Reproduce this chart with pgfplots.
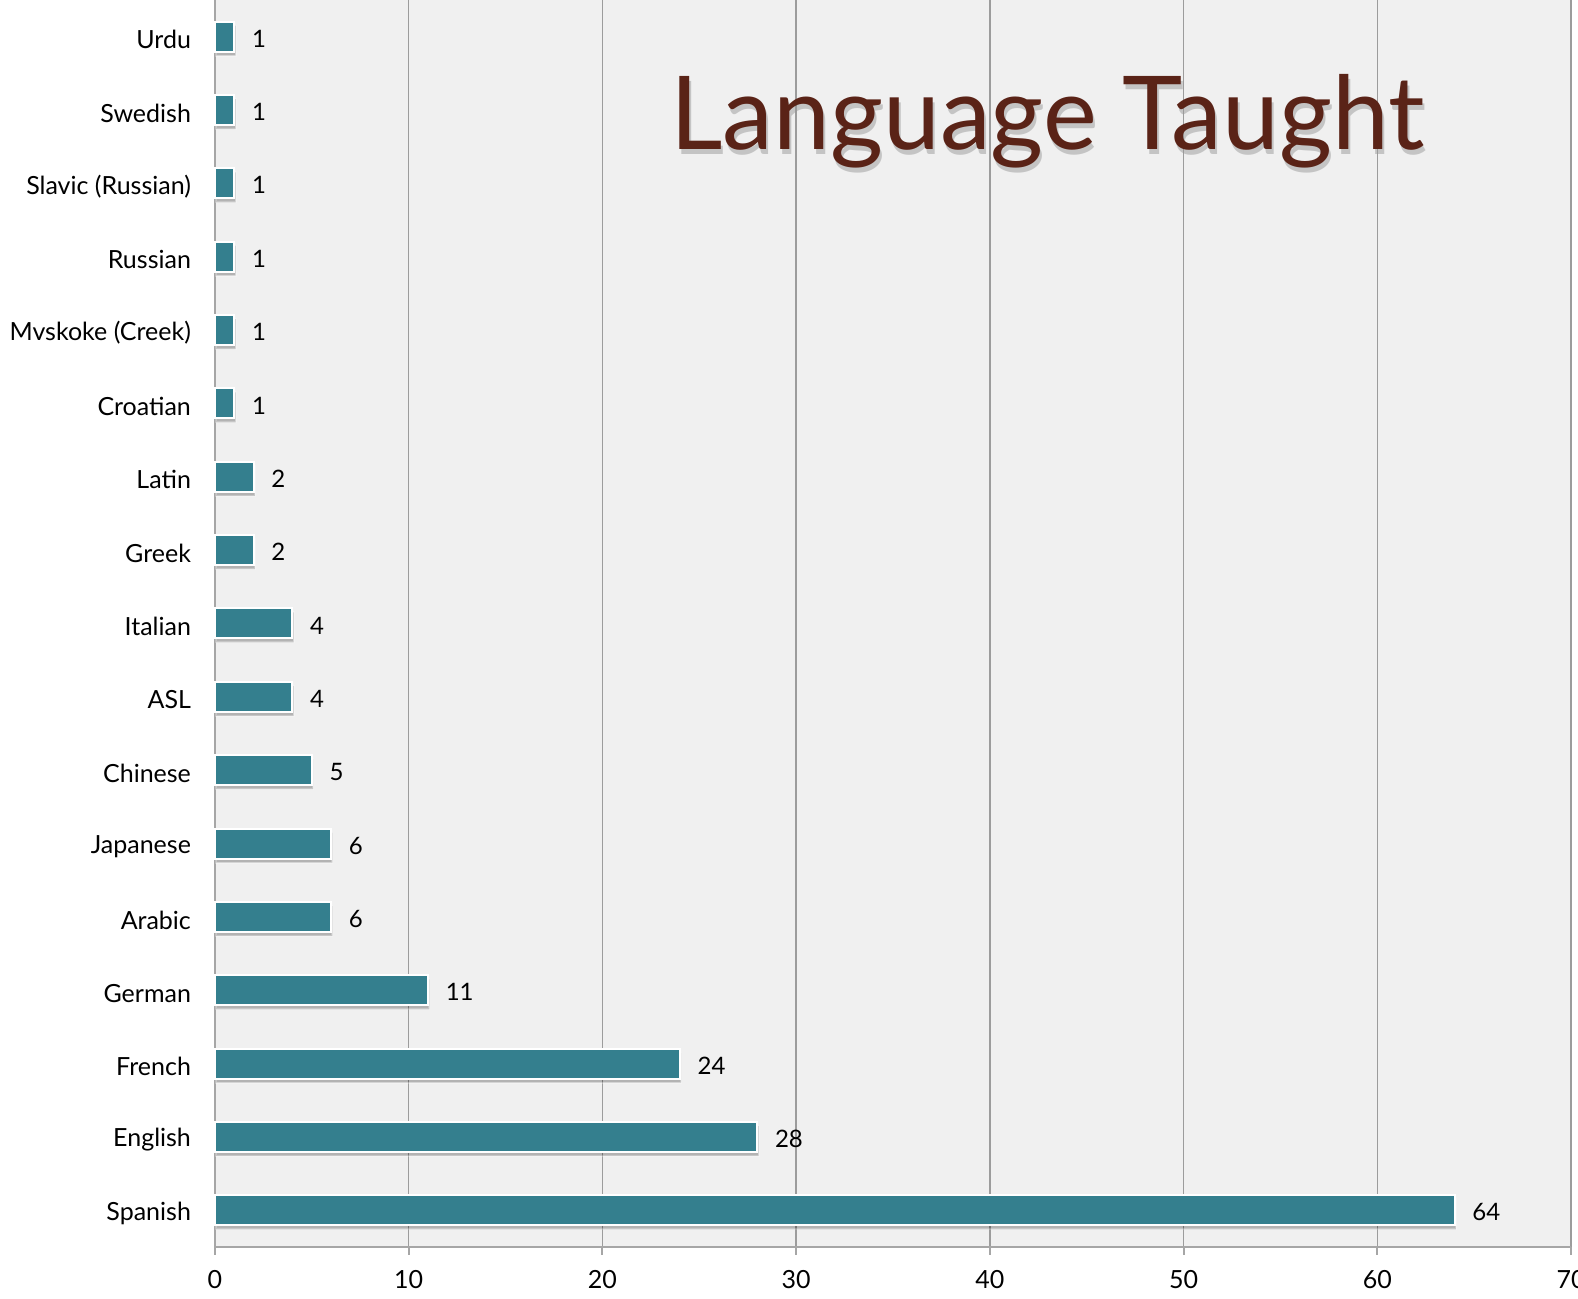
\documentclass[border=0pt]{standalone}
\usepackage{fontspec}
\setmainfont{Lato}
\usepackage{pgfplots}
\pgfplotsset{compat=1.18}
\usetikzlibrary{shadows}

\definecolor{plotbg}{HTML}{F0F0F0}
\definecolor{barteal}{HTML}{347F8E}
\definecolor{titlebrown}{HTML}{5A2317}
\definecolor{axgray}{HTML}{A6A6A6}
\definecolor{gridgray}{HTML}{9C9C9C}

\begin{document}
\begin{tikzpicture}
\begin{axis}[
  at={(0,0)}, anchor=south west,
  scale only axis, width=678pt, height=623.5pt,
  xbar, bar width=15pt,
  xmin=0, xmax=70, ymin=-0.5, ymax=16.5,
  axis background/.style={fill=plotbg},
  axis x line*=bottom, axis y line*=left,
  axis line style={axgray, line width=1pt},
  xtick={0,10,...,70},
  xmajorgrids, major grid style={gridgray, line width=0.7pt},
  ytick={0,...,16},
  yticklabels={Spanish,English,French,German,Arabic,Japanese,Chinese,ASL,Italian,Greek,Latin,Croatian,Mvskoke (Creek),Russian,Slavic (Russian),Swedish,Urdu},
  minor ytick={-0.5,0.5,...,16.5},
  tick align=outside,
  major tick length=4pt,
  ytick style={draw=none},
  minor tick length=4pt,
  minor tick style={axgray, line width=1pt},
  xtick style={axgray, line width=1pt},
  ticklabel style={font=\fontsize{12.5}{15}\selectfont},
  yticklabel style={xshift=-4.5pt, yshift=-1.5pt},
  xticklabel style={yshift=-4pt},
  /pgf/number format/assume math mode=true,
  nodes near coords,
  nodes near coords style={font=\fontsize{12}{14}\selectfont, anchor=west, xshift=5pt, yshift=-1pt, text=black},
  clip=false,
]
\addplot[fill=barteal, draw=white, line width=1pt,
  drop shadow={shadow xshift=0.6pt, shadow yshift=-2pt, opacity=0.25, fill=black}]
  coordinates {(64,0) (28,1) (24,2) (11,3) (6,4) (6,5) (5,6) (4,7) (4,8) (2,9) (2,10) (1,11) (1,12) (1,13) (1,14) (1,15) (1,16)};
\node[anchor=base, text=black!40, opacity=0.5, font=\fontsize{51}{58}\selectfont]
  at ([xshift=1pt,yshift=-2.5pt]rel axis cs:0.614,0.88) {Language Taught};
\node[anchor=base, text=titlebrown, font=\fontsize{51}{58}\selectfont]
  at (rel axis cs:0.614,0.88) {Language Taught};
\end{axis}
\pgfresetboundingbox
\path (-107.5pt,-26pt) rectangle (681.5pt,623.5pt);
\end{tikzpicture}
\end{document}
